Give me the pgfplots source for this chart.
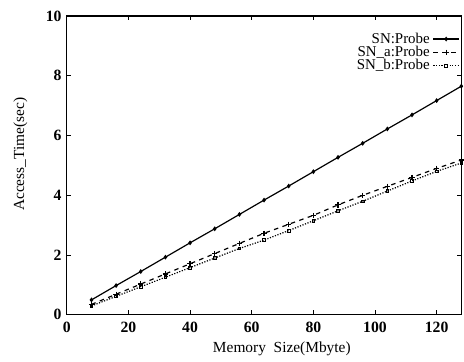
\documentclass[border=0pt]{standalone}
\usepackage{fontspec}
\setmainfont{Liberation Serif}
\usepackage{pgfplots}
\pgfplotsset{compat=1.18}
\begin{document}
\begin{tikzpicture}
\begin{axis}[
  scale only axis,
  width=264pt, height=200pt,
  xmin=0, xmax=128, ymin=0, ymax=10,
  xtick={0,20,40,60,80,100,120},
  ytick={0,2,4,6,8,10},
  tick align=inside,
  tick style={black, line width=0.6pt},
  major tick length=3pt,
  axis line style={line width=0.8pt},
  /pgf/number format/assume math mode=true,
  ticklabel style={font=\fontsize{10.5}{11}\selectfont\bfseries},
  xticklabel style={yshift=-1pt},
  xlabel={Memory\ \ Size(Mbyte)},
  ylabel={Access\_Time(sec)},
  label style={font=\fontsize{10.3}{11}\selectfont},
  xlabel style={at={(axis description cs:0.545,0)}, anchor=center, yshift=-23pt},
  ylabel style={at={(axis description cs:0,0.537)}, anchor=center, yshift=31pt},
  legend style={at={(1,0.96)}, anchor=north east, draw=none, fill=none,
    legend plot pos=right, cells={anchor=east}, font=\fontsize{10}{11}\selectfont,
    row sep=-3.5pt, inner sep=1pt},
  every axis plot/.append style={line width=0.8pt},
]
\addplot[black, solid, mark=diamond*, mark size=1.0pt] coordinates {
(8,0.5)(16,0.98)(24,1.45)(32,1.93)(40,2.41)(48,2.88)(56,3.36)(64,3.84)(72,4.31)(80,4.79)(88,5.27)(96,5.74)(104,6.22)(112,6.69)(120,7.17)(128,7.65)};
\addlegendentry{SN:Probe}
\addplot[black, dashed, mark=+, mark size=1.8pt, mark options={solid}] coordinates {
(8,0.35)(16,0.69)(24,1.03)(32,1.37)(40,1.71)(48,2.05)(56,2.39)(64,2.73)(72,3.03)(80,3.33)(88,3.68)(96,4.0)(104,4.3)(112,4.6)(120,4.9)(128,5.18)};
\addlegendentry{SN\_a:Probe}
\addplot[black, densely dotted, mark=square, mark size=0.9pt, mark options={solid, line width=0.5pt}] coordinates {
(8,0.30)(16,0.62)(24,0.94)(32,1.26)(40,1.58)(48,1.90)(56,2.22)(64,2.50)(72,2.82)(80,3.15)(88,3.48)(96,3.80)(104,4.14)(112,4.48)(120,4.80)(128,5.08)};
\addlegendentry{SN\_b:Probe}
\end{axis}
\path (current axis.south west) ++(-44.7pt,-28pt) (current axis.north east) ++(0pt,10.7pt);
\end{tikzpicture}
\end{document}
